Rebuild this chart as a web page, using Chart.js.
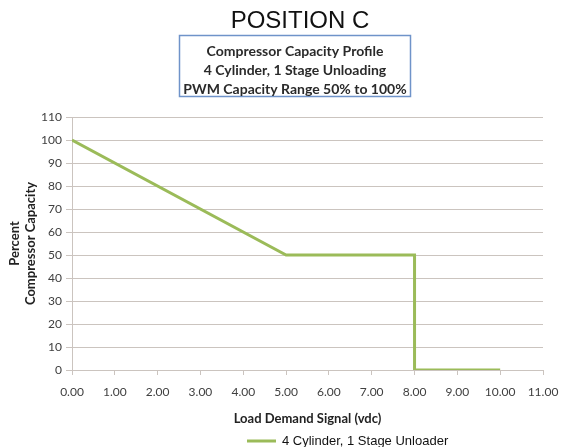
<!DOCTYPE html>
<html><head><meta charset="utf-8">
<script src="https://cdn.jsdelivr.net/npm/chart.js@4/dist/chart.umd.min.js"></script>
<style>html,body{margin:0;padding:0;background:#fff}#wrap{position:relative;width:561px;height:447px}</style>
</head><body><div id="wrap"><canvas id="c" width="561" height="447"></canvas></div>
<script>
const titleText = "POSITION C";
const boxLines = ["Compressor Capacity Profile", "4 Cylinder, 1 Stage Unloading", "PWM Capacity Range 50% to 100%"];
const xAxisTitle = "Load Demand Signal (vdc)";
const yAxisTitle = ["Percent", "Compressor Capacity"];
const seriesName = "4 Cylinder, 1 Stage Unloader";
const signalVdc = [0, 5, 8, 8, 10];
const capacityPct = [100, 50, 50, 0, 0];
const xTickValues = [0, 1, 2, 3, 4, 5, 6, 7, 8, 9, 10, 11];
const yTickValues = [0, 10, 20, 30, 40, 50, 60, 70, 80, 90, 100, 110];

const lineColor = '#9bbb59';
const gridColor = '#cbc4bf';
const textColor = '#404040';
const labelFont = 'Lato, "Open Sans", sans-serif';

const decor = {
  id: 'decor',
  afterDraw(chart) {
    const ctx = chart.ctx;
    ctx.save();
    ctx.fillStyle = '#111';
    ctx.font = '24px "Liberation Sans", Arial, sans-serif';
    ctx.textAlign = 'center';
    ctx.textBaseline = 'alphabetic';
    ctx.fillText(titleText, 300, 28);
    ctx.strokeStyle = '#6f93c9';
    ctx.lineWidth = 1.5;
    ctx.strokeRect(179.5, 35.5, 231, 61);
    ctx.fillStyle = '#2a2a2a';
    ctx.font = 'bold 14px ' + labelFont;
    ctx.textBaseline = 'middle';
    boxLines.forEach((t, i) => ctx.fillText(t, 295, 51 + i * 19));
    const ly = 441;
    ctx.strokeStyle = lineColor;
    ctx.lineWidth = 3;
    ctx.beginPath(); ctx.moveTo(247, ly); ctx.lineTo(276, ly); ctx.stroke();
    ctx.fillStyle = '#111';
    ctx.font = '13px "Liberation Sans", Arial, sans-serif';
    ctx.textAlign = 'left';
    ctx.fillText(chart.data.datasets[0].label, 282, ly);
    ctx.restore();
  }
};

new Chart(document.getElementById('c'), {
  type: 'line',
  data: {
    datasets: [{
      label: seriesName,
      data: signalVdc.map((x, i) => ({x, y: capacityPct[i]})),
      borderColor: lineColor,
      backgroundColor: lineColor,
      borderWidth: 3,
      pointRadius: 0,
      tension: 0,
      fill: false
    }]
  },
  options: {
    responsive: false,
    animation: false,
    layout: {padding: {top: 117, right: 18, bottom: 17, left: 0}},
    plugins: {legend: {display: false}, tooltip: {enabled: false}, title: {display: false}},
    scales: {
      x: {
        type: 'linear', min: 0, max: 11,
        afterBuildTicks: s => { s.ticks = xTickValues.map(v => ({value: v})); },
        afterFit: s => { s.height = 60; s.paddingLeft = 0; s.paddingRight = 0; },
        ticks: {callback: v => Number(v).toFixed(2), color: textColor, font: {family: labelFont, size: 12}, padding: 10, maxRotation: 0, autoSkip: false},
        grid: {drawOnChartArea: false, drawTicks: true, tickLength: 5, color: gridColor},
        border: {color: gridColor, width: 1},
        title: {display: true, text: xAxisTitle, color: '#222', font: {family: labelFont, size: 13, weight: 'bold'}, padding: {top: 0, bottom: 3}}
      },
      y: {
        min: 0, max: 110,
        afterBuildTicks: s => { s.ticks = yTickValues.map(v => ({value: v})); },
        afterFit: s => { s.width = 72; s.paddingTop = 0; s.paddingBottom = 0; },
        ticks: {color: textColor, font: {family: labelFont, size: 12}, padding: 4},
        grid: {color: gridColor, tickLength: 6, drawTicks: true},
        border: {color: gridColor, width: 1},
        title: {display: true, text: yAxisTitle, color: '#222', font: {family: labelFont, size: 13, weight: 'bold', lineHeight: 1.2}, padding: {top: 7, bottom: 0}}
      }
    }
  },
  plugins: [decor]
});
</script></body></html>
